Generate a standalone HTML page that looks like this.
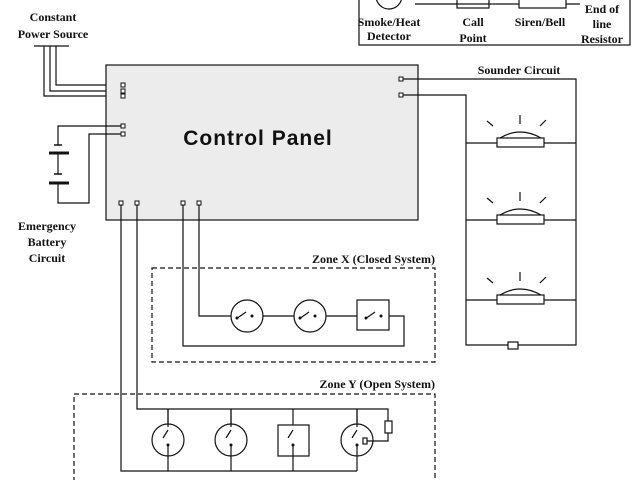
<!DOCTYPE html>
<html><head><style>body{margin:0;background:#fff}svg{display:block}text{font-family:"Liberation Serif",serif;font-weight:bold;font-size:12px;fill:#111}</style></head><body>
<svg width="640" height="480" viewBox="0 0 640 480" fill="none" stroke="#111" stroke-width="1.2">
<!-- legend -->
<rect x="359" y="-5" width="271" height="50"/>
<ellipse cx="389" cy="-4" rx="13" ry="13"/>
<rect x="457" y="-5" width="32" height="13"/>
<line x1="415" y1="4" x2="580" y2="4"/>
<rect x="519" y="-5" width="47" height="13" fill="#fff"/>
<text x="389" y="26" text-anchor="middle" stroke="none">Smoke/Heat</text>
<text x="389" y="40" text-anchor="middle" stroke="none">Detector</text>
<text x="473" y="26" text-anchor="middle" stroke="none">Call</text>
<text x="473" y="42" text-anchor="middle" stroke="none">Point</text>
<text x="540" y="26" text-anchor="middle" stroke="none">Siren/Bell</text>
<text x="602" y="13" text-anchor="middle" stroke="none">End of</text>
<text x="602" y="28" text-anchor="middle" stroke="none">line</text>
<text x="602" y="43" text-anchor="middle" stroke="none">Resistor</text>
<!-- power -->
<text x="53" y="21" text-anchor="middle" stroke="none">Constant</text>
<text x="53" y="38" text-anchor="middle" stroke="none">Power Source</text>
<line x1="34" y1="46" x2="69" y2="46"/>
<polyline points="44,46 44,96 121,96"/>
<polyline points="50,46 50,91 121,91"/>
<polyline points="56,46 56,85 121,85"/>
<!-- panel -->
<rect x="106" y="65" width="312" height="155" fill="#ececec"/>
<text x="258" y="145" text-anchor="middle" stroke="none" style="font-family:'Liberation Sans',sans-serif;font-size:21px;font-weight:900;letter-spacing:1px">Control Panel</text>
<g fill="#fff" stroke-width="1">
<rect x="121" y="83" width="4" height="4"/><rect x="121" y="89" width="4" height="4"/><rect x="121" y="94" width="4" height="4"/>
<rect x="121" y="124" width="4" height="4"/><rect x="121" y="132" width="4" height="4"/>
<rect x="399" y="77" width="4" height="4"/><rect x="399" y="93" width="4" height="4"/>
<rect x="119" y="201" width="4" height="4"/><rect x="135" y="201" width="4" height="4"/><rect x="181" y="201" width="4" height="4"/><rect x="197" y="201" width="4" height="4"/>
</g>
<!-- battery -->
<polyline points="121,126 58,126 58,145"/>
<line x1="49" y1="153" x2="69" y2="153" stroke-width="3"/>
<line x1="58" y1="153" x2="58" y2="174"/>
<line x1="54" y1="174" x2="62" y2="174" stroke-width="1.5"/>
<line x1="49" y1="183" x2="69" y2="183" stroke-width="3"/>
<line x1="54" y1="145" x2="62" y2="145" stroke-width="1.5"/>
<polyline points="58,183 58,203 89,203 89,134 121,134"/>
<text x="47" y="230" text-anchor="middle" stroke="none">Emergency</text>
<text x="47" y="246" text-anchor="middle" stroke="none">Battery</text>
<text x="47" y="262" text-anchor="middle" stroke="none">Circuit</text>
<!-- sounder -->
<text x="519" y="74" text-anchor="middle" stroke="none">Sounder Circuit</text>
<polyline points="403,79 576,79 576,345 466,345 466,95 403,95"/>
<rect x="508" y="342" width="10" height="7" fill="#fff"/>
<g id="s">
<line x1="466" y1="143" x2="576" y2="143"/>
<rect x="497" y="138" width="47" height="9" fill="#fff"/>
<path d="M500,138 Q520,126 541,138"/>
<line x1="520" y1="115" x2="520" y2="124"/><line x1="487" y1="121" x2="493" y2="126"/><line x1="540" y1="126" x2="546" y2="120"/>
</g>
<use href="#s" y="77"/><use href="#s" y="157"/>
<!-- zone X -->
<text x="435" y="263" text-anchor="end" stroke="none">Zone X (Closed System)</text>
<rect x="152" y="268" width="283" height="94" stroke-dasharray="5,3"/>
<polyline points="199,205 199,316 404,316 404,346 183,346 183,205"/>
<g fill="#fff"><ellipse cx="247" cy="316" rx="16" ry="16"/><ellipse cx="310" cy="316" rx="16" ry="16"/><rect x="357" y="300" width="32" height="30"/></g>
<g stroke-width="1.2"><line x1="236" y1="319" x2="246" y2="312"/><line x1="299" y1="319" x2="309" y2="312"/><line x1="365" y1="319" x2="375" y2="312"/></g>
<g fill="#111" stroke="none"><circle cx="237" cy="318" r="1.5"/><circle cx="252" cy="316" r="1.5"/><circle cx="300" cy="318" r="1.5"/><circle cx="315" cy="316" r="1.5"/><circle cx="366" cy="318" r="1.5"/><circle cx="381" cy="316" r="1.5"/></g>
<!-- zone Y -->
<text x="435" y="388" text-anchor="end" stroke="none">Zone Y (Open System)</text>
<polyline points="74,482 74,394 435,394 435,482" stroke-dasharray="5,3"/>
<polyline points="137,205 137,409 388,409 388,441 366,441"/>
<polyline points="121,205 121,471 357,471"/>
<rect x="385" y="421" width="7" height="12" fill="#fff"/>
<g>
<line x1="168" y1="409" x2="168" y2="424"/><line x1="231" y1="409" x2="231" y2="424"/><line x1="293" y1="409" x2="293" y2="425"/><line x1="357" y1="409" x2="357" y2="424"/>
<line x1="168" y1="444" x2="168" y2="471"/><line x1="231" y1="444" x2="231" y2="471"/><line x1="293" y1="444" x2="293" y2="471"/><line x1="357" y1="444" x2="357" y2="471"/>
</g>
<g fill="none"><ellipse cx="168" cy="440" rx="16" ry="16"/><ellipse cx="231" cy="440" rx="16" ry="16"/><rect x="278" y="425" width="31" height="31"/><ellipse cx="357" cy="440" rx="16" ry="16"/></g>
<line x1="168" y1="409" x2="168" y2="427"/><line x1="231" y1="409" x2="231" y2="427"/><line x1="357" y1="409" x2="357" y2="427"/>
<g><line x1="163" y1="438" x2="168" y2="430"/><line x1="226" y1="438" x2="231" y2="430"/><line x1="288" y1="438" x2="293" y2="430"/><line x1="352" y1="438" x2="357" y2="430"/></g>
<g fill="#111" stroke="none"><circle cx="168" cy="445" r="1.5"/><circle cx="231" cy="445" r="1.5"/><circle cx="293" cy="445" r="1.5"/><circle cx="357" cy="445" r="1.5"/></g>
<rect x="363" y="438" width="4" height="6" fill="#fff"/>
</svg>
</body></html>
